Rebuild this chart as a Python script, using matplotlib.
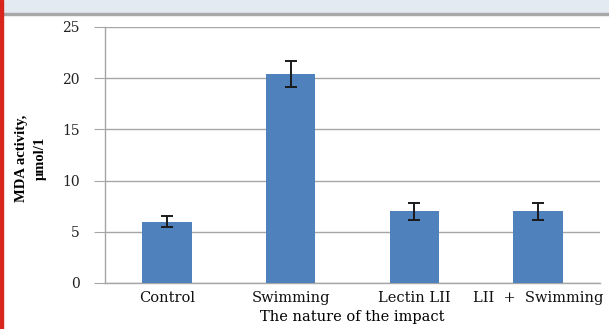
import matplotlib
matplotlib.use("Agg")
import matplotlib.pyplot as plt
from matplotlib.patches import Rectangle

categories = ["Control", "Swimming", "Lectin LII", "LII  +  Swimming"]
mda = [6.0, 20.4, 7.0, 7.0]
mda_err = [0.55, 1.3, 0.8, 0.8]
y_ticks = [0, 5, 10, 15, 20, 25]

fig = plt.figure(figsize=(6.09, 3.29), dpi=100)
ax = fig.add_axes([105 / 609, 46 / 329, 495 / 609, 256 / 329])

# page decorations around the chart (header band, red margin line)
fig.patches.append(Rectangle((0, 1 - 13 / 329), 1, 13 / 329, transform=fig.transFigure,
                             color="#e4eaf2", zorder=0))
fig.patches.append(Rectangle((0, 1 - 15 / 329), 1, 2 / 329, transform=fig.transFigure,
                             color="#a8a8a8", zorder=0))
fig.patches.append(Rectangle((0, 0), 3 / 609, 1, transform=fig.transFigure,
                             color="#d8261c", zorder=1))

x = range(len(categories))
ax.bar(x, mda, width=0.4, color="#4f81bd", zorder=3)
ax.errorbar(x, mda, yerr=mda_err, fmt="none", ecolor="#1a1a1a",
            elinewidth=1.4, capsize=4.5, capthick=1.4, zorder=4)

ax.set_xlim(-0.5, len(categories) - 0.5)
ax.set_ylim(0, 25)
ax.set_yticks(y_ticks)
ax.yaxis.grid(True, color="#a6a6a6", linewidth=1.0, zorder=0)
ax.set_axisbelow(True)

for s in ["top", "right"]:
    ax.spines[s].set_visible(False)
for s in ["left", "bottom"]:
    ax.spines[s].set_color("#a6a6a6")
    ax.spines[s].set_linewidth(1.0)

serif = ["DejaVu Serif", "Liberation Serif"]
ax.set_xticks(list(x))
ax.set_xticklabels(categories, family=serif, fontsize=10.5, color="#111111")
ax.tick_params(axis="x", length=0, pad=6)
ax.tick_params(axis="y", length=8, color="#a6a6a6", labelsize=10, labelcolor="#222222", pad=10)
for lbl in ax.get_yticklabels():
    lbl.set_family(serif)

ax.set_xlabel("The nature of the impact", family=serif, fontsize=10.5, labelpad=3)
fig.text(31 / 609, 0.52, "MDA activity,\nμmol/1", rotation=90, ha="center", va="center",
         family=["Liberation Serif", "DejaVu Serif"], fontsize=10.5, fontweight="bold",
         linespacing=1.5)

fig.savefig("out.png", dpi=100)
